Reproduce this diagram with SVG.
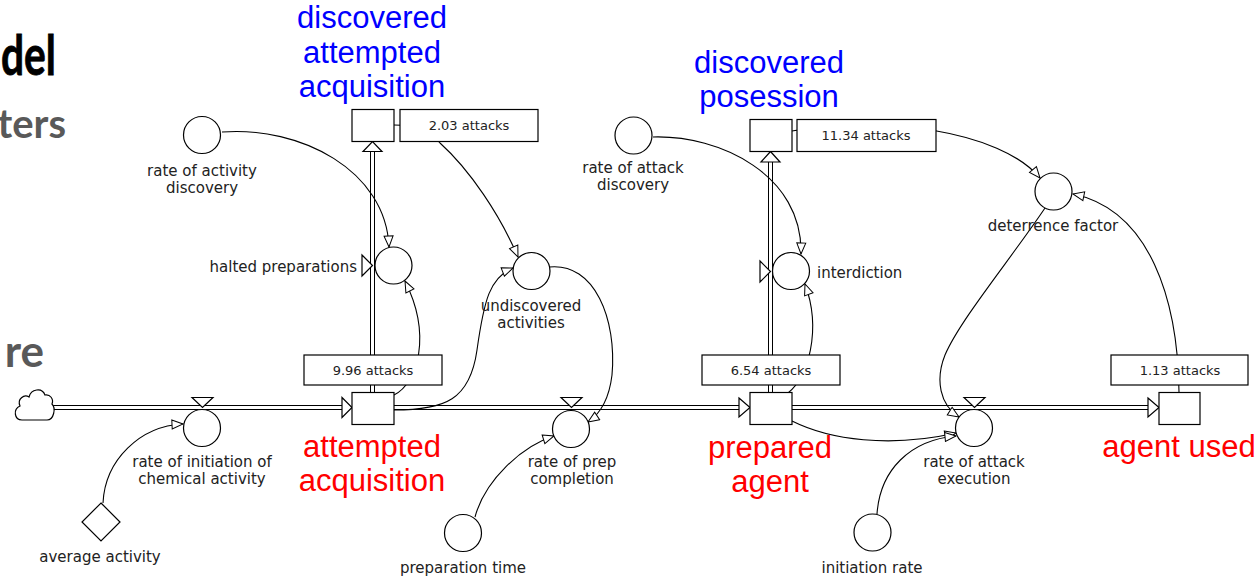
<svg xmlns="http://www.w3.org/2000/svg" width="1259" height="578" viewBox="0 0 1259 578">
<style>
.lbl{font-family:"DejaVu Sans",Verdana,sans-serif;font-size:15px;fill:#222;text-anchor:middle}
.val{font-family:"DejaVu Sans",Verdana,sans-serif;font-size:13px;fill:#222;text-anchor:middle}
.big{font-family:"Liberation Sans",Arial,sans-serif;font-size:31px;text-anchor:middle}
.blue{fill:#0000ff}
.red{fill:#ff0000}
.ttl{font-family:Lato,"Open Sans",sans-serif;font-weight:bold}
.aux{fill:#fff;stroke:#000;stroke-width:1.2}
.box{fill:#fff;stroke:#000;stroke-width:1.2}
.pipeo{fill:none;stroke:#000;stroke-width:5}
.pipei{fill:none;stroke:#fff;stroke-width:3}
.con{fill:none;stroke:#000;stroke-width:1.1}
.tri{fill:#fff;stroke:#000;stroke-width:1.2}
</style>
<defs>
<marker id="arr" viewBox="-1 -1 13 11" refX="11" refY="4.5" markerWidth="13" markerHeight="11" orient="auto" markerUnits="userSpaceOnUse">
<path d="M0,0 L11,4.5 L0,9 Z" fill="#fff" stroke="#000" stroke-width="1"/>
</marker>
</defs>

<!-- slide title fragments -->
<g id="title">
<text class="ttl" x="1" y="75" font-size="56" fill="#000" stroke="#000" stroke-width="0.8" textLength="55" lengthAdjust="spacingAndGlyphs">del</text>
<text class="ttl" x="66" y="138" font-size="40" fill="#595959" text-anchor="end">ters</text>
<text class="ttl" x="44" y="367" font-size="44" fill="#595959" text-anchor="end">re</text>
</g>

<!-- pipes (flows) -->
<g id="pipes">
<path class="pipeo" d="M53,407.5 H344 M394,407.5 H741 M792,407.5 H1150 M372.5,392 V150 M770.5,392 V160"/>
<path class="pipei" d="M52,407.5 H345 M394,407.5 H742 M792,407.5 H1151 M372.5,393 V149 M770.5,393 V159"/>
<path class="tri" d="M342,397.5 L352,407.5 L342,417.5 Z"/>
<path class="tri" d="M739,398 L750,407.5 L739,417 Z"/>
<path class="tri" d="M1148,398 L1159,407.5 L1148,417 Z"/>
<path class="tri" d="M363,151.5 L372.5,141.5 L382,151.5 Z"/>
<path class="tri" d="M761,162 L770.5,151.5 L780,162 Z"/>
</g>

<!-- connectors -->
<g id="connectors">
<path class="con" marker-end="url(#arr)" d="M222,132 C300,126 386,170 389,247"/>
<path class="con" marker-end="url(#arr)" d="M394,125 Q425,125 440,143 C470,170 500,215 518,257"/>
<path class="con" marker-end="url(#arr)" d="M394,410 C445,410 470,400 477,350 C484,300 490,277 513,268"/>
<path class="con" marker-end="url(#arr)" d="M394,395 C418,383 432,335 405,281"/>
<path class="con" marker-end="url(#arr)" d="M549,267 C595,262 617,320 612,375 C609,400 600,414 588,422"/>
<path class="con" marker-end="url(#arr)" d="M475,517 C485,480 522,446 554,436"/>
<path class="con" marker-end="url(#arr)" d="M103,503 C105,460 140,426 183,424"/>
<path class="con" marker-end="url(#arr)" d="M653,137 C720,135 803,175 801,254"/>
<path class="con" marker-end="url(#arr)" d="M788,393 C808,378 822,330 805,284"/>
<path class="con" marker-end="url(#arr)" d="M792,421 C830,440 890,448 956,433"/>
<path class="con" marker-end="url(#arr)" d="M877,514 C880,470 910,440 956,436"/>
<path class="con" marker-end="url(#arr)" d="M1045,208 C1010,260 960,320 945,355 C935,380 940,405 959,417"/>
<path class="con" marker-end="url(#arr)" d="M792,131 C880,115 1000,130 1040,178"/>
<path class="con" marker-end="url(#arr)" d="M1179,392 C1178,300 1150,210 1073,194"/>
</g>

<!-- cloud source -->
<g id="cloud">
<path class="aux" d="M22,420 C14,420 13,409 20,406 C17,399 24,394 29,397 C31,389 42,387 45,395 C50,394 54,399 52,404 C56,408 54,420 47,420 Z"/>
</g>

<!-- stocks -->
<g id="stock-attempted-acquisition">
<rect class="box" x="352" y="392.5" width="42" height="32"/>
<rect class="box" x="304" y="355" width="138" height="30"/>
<text class="val" x="373" y="375">9.96 attacks</text>
<text class="big red" x="372" y="457">attempted</text>
<text class="big red" x="372" y="491">acquisition</text>
</g>
<g id="stock-discovered-attempted-acquisition">
<rect class="box" x="352" y="109.5" width="42" height="32"/>
<rect class="box" x="400" y="109.5" width="138" height="32"/>
<text class="val" x="469" y="130">2.03 attacks</text>
<text class="big blue" x="372" y="28">discovered</text>
<text class="big blue" x="372" y="62.5">attempted</text>
<text class="big blue" x="372" y="97">acquisition</text>
</g>
<g id="stock-prepared-agent">
<rect class="box" x="750" y="392.5" width="42" height="32"/>
<rect class="box" x="702" y="355" width="138" height="30"/>
<text class="val" x="771" y="375">6.54 attacks</text>
<text class="big red" x="770" y="458">prepared</text>
<text class="big red" x="770" y="492">agent</text>
</g>
<g id="stock-discovered-posession">
<rect class="box" x="750" y="119.5" width="42" height="32"/>
<rect class="box" x="797" y="119.5" width="139" height="32"/>
<text class="val" x="866" y="140">11.34 attacks</text>
<text class="big blue" x="769" y="73">discovered</text>
<text class="big blue" x="769" y="107">posession</text>
</g>
<g id="stock-agent-used">
<rect class="box" x="1159" y="392.5" width="41" height="32"/>
<rect class="box" x="1111" y="355" width="137" height="30"/>
<text class="val" x="1180" y="375">1.13 attacks</text>
<text class="big red" x="1179" y="457">agent used</text>
</g>

<!-- flows / valves -->
<g id="flow-rate-of-initiation">
<path class="tri" d="M192,397.5 L213,397.5 L202.5,407.5 Z"/>
<circle class="aux" cx="202" cy="428" r="18.5"/>
<text class="lbl" x="202" y="467">rate of initiation of</text>
<text class="lbl" x="202" y="484">chemical activity</text>
</g>
<g id="flow-rate-of-prep-completion">
<path class="tri" d="M561,397.5 L582,397.5 L571.5,407.5 Z"/>
<circle class="aux" cx="571" cy="429" r="18.5"/>
<text class="lbl" x="572" y="467">rate of prep</text>
<text class="lbl" x="572" y="484">completion</text>
</g>
<g id="flow-rate-of-attack-execution">
<path class="tri" d="M964,397.5 L985,397.5 L974.5,407.5 Z"/>
<circle class="aux" cx="974" cy="428" r="18.5"/>
<text class="lbl" x="974" y="467">rate of attack</text>
<text class="lbl" x="974" y="484">execution</text>
</g>
<g id="flow-halted-preparations">
<path class="tri" d="M362,255 L372.5,265.5 L362,276 Z"/>
<circle class="aux" cx="393.5" cy="265.5" r="18.5"/>
<text class="lbl" x="357" y="272" style="text-anchor:end">halted preparations</text>
</g>
<g id="flow-interdiction">
<path class="tri" d="M760,261 L770.5,271.5 L760,282 Z"/>
<circle class="aux" cx="791" cy="271" r="18.5"/>
<text class="lbl" x="817" y="278" style="text-anchor:start">interdiction</text>
</g>

<!-- auxiliaries -->
<g id="aux-rate-of-activity-discovery">
<circle class="aux" cx="202" cy="135" r="18.5"/>
<text class="lbl" x="202" y="176">rate of activity</text>
<text class="lbl" x="202" y="193">discovery</text>
</g>
<g id="aux-undiscovered-activities">
<circle class="aux" cx="531.5" cy="271" r="18.5"/>
<text class="lbl" x="531" y="311">undiscovered</text>
<text class="lbl" x="531" y="328">activities</text>
</g>
<g id="aux-rate-of-attack-discovery">
<circle class="aux" cx="633.5" cy="135.5" r="18.5"/>
<text class="lbl" x="633" y="173">rate of attack</text>
<text class="lbl" x="633" y="190">discovery</text>
</g>
<g id="aux-deterrence-factor">
<circle class="aux" cx="1053.5" cy="191.5" r="18.5"/>
<text class="lbl" x="1053" y="231">deterrence factor</text>
</g>
<g id="aux-preparation-time">
<circle class="aux" cx="463" cy="533" r="18.5"/>
<text class="lbl" x="463" y="573">preparation time</text>
</g>
<g id="aux-initiation-rate">
<circle class="aux" cx="872.5" cy="532.5" r="18.5"/>
<text class="lbl" x="872" y="573">initiation rate</text>
</g>
<g id="const-average-activity">
<path class="aux" d="M101,503 L120,522 L101,541 L82,522 Z"/>
<text class="lbl" x="100" y="562">average activity</text>
</g>
</svg>
